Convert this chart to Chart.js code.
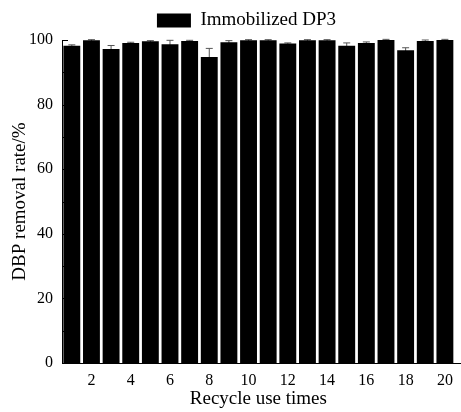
<!DOCTYPE html>
<html>
<head>
<meta charset="utf-8">
<script src="https://cdn.jsdelivr.net/npm/chart.js@4"></script>
<style>
  html, body { margin: 0; padding: 0; background: #fff; }
  #wrap { width: 461px; height: 412px; }
</style>
</head>
<body>
<div id="wrap"><canvas id="chart" width="461" height="412"></canvas></div>
<script>
// recycle runs 1..20
const cycles = ["1","2","3","4","5","6","7","8","9","10","11","12","13","14","15","16","17","18","19","20"];
const removalRate = [98.2, 99.9, 97.2, 99.1, 99.6, 98.7, 99.7, 94.7, 99.3, 99.9, 99.9, 98.9, 99.9, 99.9, 98.2, 99.1, 100, 96.8, 99.7, 100];
const removalErr = [0.3, 0.2, 1.1, 0.2, 0.2, 1.2, 0.2, 2.7, 0.5, 0.2, 0.2, 0.2, 0.2, 0.2, 0.9, 0.3, 0.2, 0.8, 0.3, 0.2];
const yTicks = [0, 20, 40, 60, 80, 100];

const serif = "'Liberation Serif', 'Times New Roman', serif";

// error bars drawn before the bars so the lower half is hidden
const errorBars = {
  id: "errorBars",
  beforeDatasetsDraw(chart) {
    const { ctx, scales } = chart;
    const meta = chart.getDatasetMeta(0);
    ctx.save();
    ctx.strokeStyle = "#555";
    ctx.lineWidth = 1;
    meta.data.forEach((bar, i) => {
      const x = bar.x;
      const yHi = scales.y.getPixelForValue(removalRate[i] + removalErr[i]);
      const yLo = scales.y.getPixelForValue(removalRate[i] - removalErr[i]);
      ctx.beginPath();
      ctx.moveTo(x, yLo);
      ctx.lineTo(x, yHi);
      ctx.moveTo(x - 3.5, yHi);
      ctx.lineTo(x + 3.5, yHi);
      ctx.stroke();
    });
    ctx.restore();
  }
};

// inward ticks on the left axis, plus bottom line running to the edge
const axisDecor = {
  id: "axisDecor",
  afterLayout(chart) {
    // legend sits a bit right of the canvas centre in the original
    chart.legend.left += 18;
    chart.legend.right += 18;
  },
  afterDraw(chart) {
    const { ctx, scales, chartArea } = chart;
    ctx.save();
    ctx.strokeStyle = "#000";
    ctx.lineWidth = 1;
    for (let v = 0; v <= 100; v += 10) {
      const y = Math.round(scales.y.getPixelForValue(v)) + 0.5;
      const len = v % 20 === 0 ? 6 : 3;
      ctx.beginPath();
      ctx.moveTo(chartArea.left, y);
      ctx.lineTo(chartArea.left + len, y);
      ctx.stroke();
    }
    const yb = Math.round(chartArea.bottom) + 0.5;
    ctx.beginPath();
    ctx.moveTo(chartArea.right, yb);
    ctx.lineTo(chart.width, yb);
    ctx.stroke();
    ctx.restore();
  }
};

new Chart(document.getElementById("chart"), {
  type: "bar",
  data: {
    labels: cycles,
    datasets: [{
      label: "Immobilized DP3",
      data: removalRate,
      backgroundColor: "#000",
      borderWidth: 0,
      barPercentage: 0.86,
      categoryPercentage: 1
    }]
  },
  options: {
    responsive: false,
    animation: false,
    layout: { padding: { top: 1, right: 4, left: 0, bottom: 0 } },
    plugins: {
      legend: {
        display: true,
        position: "top",
        labels: {
          boxWidth: 34,
          boxHeight: 14,
          padding: 10,
          color: "#000",
          font: { family: serif, size: 19 }
        }
      },
      tooltip: { enabled: false }
    },
    scales: {
      x: {
        grid: { display: false, drawTicks: false },
        border: { display: true, color: "#000", width: 1 },
        ticks: {
          autoSkip: false,
          maxRotation: 0,
          padding: 8,
          color: "#000",
          font: { family: serif, size: 16 },
          callback: function(val, idx) {
            const n = Number(cycles[idx]);
            return n % 2 === 0 ? cycles[idx] : "";
          }
        },
        title: {
          display: true,
          text: "Recycle use times",
          color: "#000",
          font: { family: serif, size: 19 },
          padding: { top: 0, bottom: 2 }
        },
        afterFit(scale) { scale.height = 49; }
      },
      y: {
        min: 0,
        max: 100,
        afterBuildTicks(scale) { scale.ticks = yTicks.map(v => ({ value: v })); },
        grid: { display: false, drawTicks: false },
        border: { display: true, color: "#000", width: 1 },
        ticks: {
          padding: 9,
          color: "#000",
          font: { family: serif, size: 16 }
        },
        title: {
          display: true,
          text: "DBP removal rate/%",
          color: "#000",
          font: { family: serif, size: 19 },
          padding: { top: 9, bottom: 0 }
        },
        afterFit(scale) { scale.width = 62; }
      }
    }
  },
  plugins: [errorBars, axisDecor]
});
</script>
</body>
</html>
